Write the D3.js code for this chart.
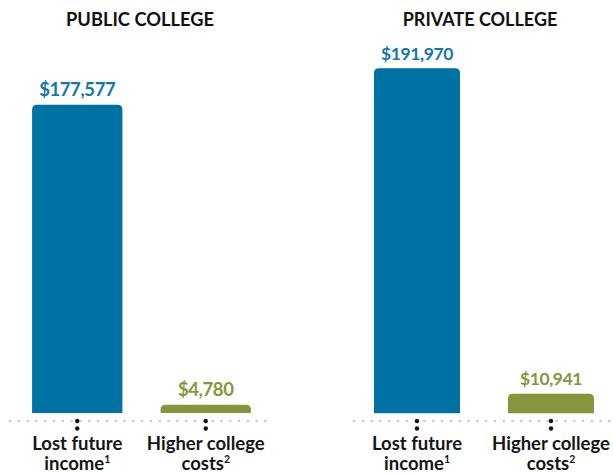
<!DOCTYPE html>
<html>
<head>
<meta charset="utf-8">
<script src="https://cdn.jsdelivr.net/npm/d3@7"></script>
<style>
  html, body { margin: 0; padding: 0; background: #fff; }
  svg { display: block; font-family: Lato, "Open Sans", sans-serif; }
</style>
</head>
<body>
<svg id="chart" width="613" height="473"></svg>
<script>
// ---- data ----
const panels = ["PUBLIC COLLEGE", "PRIVATE COLLEGE"];
const categories = ["Lost future income", "Higher college costs"];
const categoryLines = [["Lost future", "income", "1"], ["Higher college", "costs", "2"]];
const publicValues = [177577, 4780];
const privateValues = [191970, 10941];
const seriesValues = [publicValues, privateValues];

// ---- styles / layout ----
const colors = ["#0071a3", "#86963c"];
const labelColors = ["#1477a6", "#86963c"];
const layout = [
  { x0: 13, x1: 270, pi: 0.297, yTop: 104.7, yMax: 177577, base: 413, lineX0: 10, lineX1: 270, titleX: 140, vFont: 18.5, tFont: 18.3 },
  { x0: 350, x1: 618, pi: 0.358, yTop: 68.3, yMax: 191970, base: 413.3, lineX0: 354, lineX1: 613, titleX: 480, vFont: 17.5, tFont: 18 }
];

const svg = d3.select("#chart");
const fmt = d3.format("$,");

function topRounded(x, y, w, h, r) {
  r = Math.min(r, h, w / 2);
  return `M${x},${y + h}V${y + r}Q${x},${y} ${x + r},${y}H${x + w - r}Q${x + w},${y} ${x + w},${y + r}V${y + h}Z`;
}

panels.forEach((title, pIdx) => {
  const L = layout[pIdx];
  const vals = seriesValues[pIdx];
  const g = svg.append("g");

  const x = d3.scaleBand().domain(categories).range([L.x0, L.x1])
    .paddingInner(L.pi).paddingOuter(L.pi / 2);
  const y = d3.scaleLinear().domain([0, L.yMax]).range([L.base, L.yTop]);

  // title
  g.append("text")
    .attr("x", L.titleX).attr("y", 25.7)
    .attr("text-anchor", "middle")
    .attr("font-size", L.tFont).attr("font-weight", 700)
    .attr("fill", "#111")
    .text(title);

  // dotted baseline
  g.append("line")
    .attr("x1", L.lineX0).attr("x2", L.lineX1)
    .attr("y1", 421).attr("y2", 421)
    .attr("stroke", "#c8c8c8").attr("stroke-width", 2.6)
    .attr("stroke-linecap", "round")
    .attr("stroke-dasharray", "0.01 8.8");

  // bars
  g.selectAll("path.bar").data(categories).join("path")
    .attr("class", "bar")
    .attr("fill", (d, i) => colors[i])
    .attr("d", (d, i) => topRounded(x(d), y(vals[i]), x.bandwidth(), y(0) - y(vals[i]), 5));

  // value labels
  g.selectAll("text.val").data(categories).join("text")
    .attr("class", "val")
    .attr("x", d => x(d) + x.bandwidth() / 2)
    .attr("y", (d, i) => y(vals[i]) - 8.5)
    .attr("text-anchor", "middle")
    .attr("font-size", L.vFont).attr("font-weight", 700)
    .attr("letter-spacing", -0.4)
    .attr("fill", (d, i) => labelColors[i])
    .text((d, i) => fmt(vals[i]));

  // tick dots
  categories.forEach(d => {
    [421, 428.5].forEach(cy => {
      g.append("circle")
        .attr("cx", x(d) + x.bandwidth() / 2).attr("cy", cy)
        .attr("r", 2.2).attr("fill", "#111");
    });
  });

  // category labels
  const lab = g.selectAll("text.cat").data(categories).join("text")
    .attr("class", "cat")
    .attr("text-anchor", "middle")
    .attr("font-size", 18.5).attr("font-weight", 700)
    .attr("fill", "#151515");
  lab.each(function(d, i) {
    const t = d3.select(this);
    const cx = x(d) + x.bandwidth() / 2;
    const lines = categoryLines[i];
    t.append("tspan").attr("x", cx).attr("y", 450).text(lines[0]);
    const t2 = t.append("tspan").attr("x", cx).attr("y", 470);
    t2.append("tspan").text(lines[1]);
    t2.append("tspan").attr("font-size", 10.5).attr("dy", -7).text(lines[2]);
  });
});
</script>
</body>
</html>
